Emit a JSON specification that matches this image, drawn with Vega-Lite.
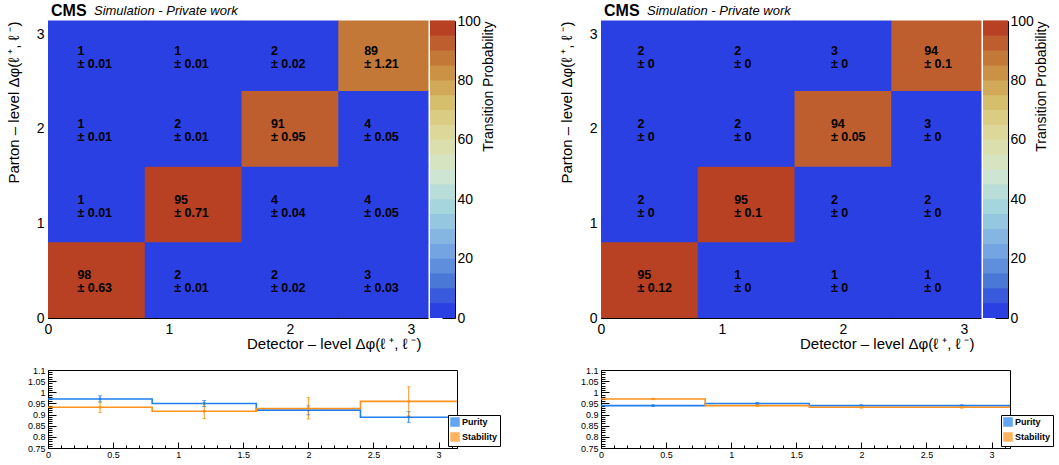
{
  "$schema": "https://vega.github.io/schema/vega-lite/v6.json",
  "padding": {"left": 6, "top": 2, "right": 0, "bottom": 0},
  "background": "white",
  "config": {
    "font": "Liberation Sans",
    "view": {"stroke": null},
    "axis": {"labelColor": "black", "titleColor": "black", "domainColor": "black", "tickColor": "black", "grid": false, "labelFont": "Liberation Sans", "titleFont": "Liberation Sans", "titleFontWeight": "normal", "labelOverlap": false, "labelFlush": false},
    "text": {"font": "Liberation Sans"}
  },
  "datasets": {
    "heatL": [
      {"x0": 0, "x1": 0.8, "y0": 0, "y1": 0.8, "xc": 0.4, "yc": 0.4, "p": 98, "e": "± 0.63"},
      {"x0": 0.8, "x1": 1.6, "y0": 0, "y1": 0.8, "xc": 1.2, "yc": 0.4, "p": 2, "e": "± 0.01"},
      {"x0": 1.6, "x1": 2.4, "y0": 0, "y1": 0.8, "xc": 2.0, "yc": 0.4, "p": 2, "e": "± 0.02"},
      {"x0": 2.4, "x1": 3.1416, "y0": 0, "y1": 0.8, "xc": 2.7708, "yc": 0.4, "p": 3, "e": "± 0.03"},
      {"x0": 0, "x1": 0.8, "y0": 0.8, "y1": 1.6, "xc": 0.4, "yc": 1.2, "p": 1, "e": "± 0.01"},
      {"x0": 0.8, "x1": 1.6, "y0": 0.8, "y1": 1.6, "xc": 1.2, "yc": 1.2, "p": 95, "e": "± 0.71"},
      {"x0": 1.6, "x1": 2.4, "y0": 0.8, "y1": 1.6, "xc": 2.0, "yc": 1.2, "p": 4, "e": "± 0.04"},
      {"x0": 2.4, "x1": 3.1416, "y0": 0.8, "y1": 1.6, "xc": 2.7708, "yc": 1.2, "p": 4, "e": "± 0.05"},
      {"x0": 0, "x1": 0.8, "y0": 1.6, "y1": 2.4, "xc": 0.4, "yc": 2.0, "p": 1, "e": "± 0.01"},
      {"x0": 0.8, "x1": 1.6, "y0": 1.6, "y1": 2.4, "xc": 1.2, "yc": 2.0, "p": 2, "e": "± 0.01"},
      {"x0": 1.6, "x1": 2.4, "y0": 1.6, "y1": 2.4, "xc": 2.0, "yc": 2.0, "p": 91, "e": "± 0.95"},
      {"x0": 2.4, "x1": 3.1416, "y0": 1.6, "y1": 2.4, "xc": 2.7708, "yc": 2.0, "p": 4, "e": "± 0.05"},
      {"x0": 0, "x1": 0.8, "y0": 2.4, "y1": 3.1416, "xc": 0.4, "yc": 2.7708, "p": 1, "e": "± 0.01"},
      {"x0": 0.8, "x1": 1.6, "y0": 2.4, "y1": 3.1416, "xc": 1.2, "yc": 2.7708, "p": 1, "e": "± 0.01"},
      {"x0": 1.6, "x1": 2.4, "y0": 2.4, "y1": 3.1416, "xc": 2.0, "yc": 2.7708, "p": 2, "e": "± 0.02"},
      {"x0": 2.4, "x1": 3.1416, "y0": 2.4, "y1": 3.1416, "xc": 2.7708, "yc": 2.7708, "p": 89, "e": "± 1.21"}
    ],
    "heatR": [
      {"x0": 0, "x1": 0.8, "y0": 0, "y1": 0.8, "xc": 0.4, "yc": 0.4, "p": 95, "e": "± 0.12"},
      {"x0": 0.8, "x1": 1.6, "y0": 0, "y1": 0.8, "xc": 1.2, "yc": 0.4, "p": 1, "e": "± 0"},
      {"x0": 1.6, "x1": 2.4, "y0": 0, "y1": 0.8, "xc": 2.0, "yc": 0.4, "p": 1, "e": "± 0"},
      {"x0": 2.4, "x1": 3.1416, "y0": 0, "y1": 0.8, "xc": 2.7708, "yc": 0.4, "p": 1, "e": "± 0"},
      {"x0": 0, "x1": 0.8, "y0": 0.8, "y1": 1.6, "xc": 0.4, "yc": 1.2, "p": 2, "e": "± 0"},
      {"x0": 0.8, "x1": 1.6, "y0": 0.8, "y1": 1.6, "xc": 1.2, "yc": 1.2, "p": 95, "e": "± 0.1"},
      {"x0": 1.6, "x1": 2.4, "y0": 0.8, "y1": 1.6, "xc": 2.0, "yc": 1.2, "p": 2, "e": "± 0"},
      {"x0": 2.4, "x1": 3.1416, "y0": 0.8, "y1": 1.6, "xc": 2.7708, "yc": 1.2, "p": 2, "e": "± 0"},
      {"x0": 0, "x1": 0.8, "y0": 1.6, "y1": 2.4, "xc": 0.4, "yc": 2.0, "p": 2, "e": "± 0"},
      {"x0": 0.8, "x1": 1.6, "y0": 1.6, "y1": 2.4, "xc": 1.2, "yc": 2.0, "p": 2, "e": "± 0"},
      {"x0": 1.6, "x1": 2.4, "y0": 1.6, "y1": 2.4, "xc": 2.0, "yc": 2.0, "p": 94, "e": "± 0.05"},
      {"x0": 2.4, "x1": 3.1416, "y0": 1.6, "y1": 2.4, "xc": 2.7708, "yc": 2.0, "p": 3, "e": "± 0"},
      {"x0": 0, "x1": 0.8, "y0": 2.4, "y1": 3.1416, "xc": 0.4, "yc": 2.7708, "p": 2, "e": "± 0"},
      {"x0": 0.8, "x1": 1.6, "y0": 2.4, "y1": 3.1416, "xc": 1.2, "yc": 2.7708, "p": 2, "e": "± 0"},
      {"x0": 1.6, "x1": 2.4, "y0": 2.4, "y1": 3.1416, "xc": 2.0, "yc": 2.7708, "p": 3, "e": "± 0"},
      {"x0": 2.4, "x1": 3.1416, "y0": 2.4, "y1": 3.1416, "xc": 2.7708, "yc": 2.7708, "p": 94, "e": "± 0.1"}
    ],
    "cbar": [
      {"lo": 0, "hi": 5, "mid": 2.5}, {"lo": 5, "hi": 10, "mid": 7.5}, {"lo": 10, "hi": 15, "mid": 12.5}, {"lo": 15, "hi": 20, "mid": 17.5},
      {"lo": 20, "hi": 25, "mid": 22.5}, {"lo": 25, "hi": 30, "mid": 27.5}, {"lo": 30, "hi": 35, "mid": 32.5}, {"lo": 35, "hi": 40, "mid": 37.5},
      {"lo": 40, "hi": 45, "mid": 42.5}, {"lo": 45, "hi": 50, "mid": 47.5}, {"lo": 50, "hi": 55, "mid": 52.5}, {"lo": 55, "hi": 60, "mid": 57.5},
      {"lo": 60, "hi": 65, "mid": 62.5}, {"lo": 65, "hi": 70, "mid": 67.5}, {"lo": 70, "hi": 75, "mid": 72.5}, {"lo": 75, "hi": 80, "mid": 77.5},
      {"lo": 80, "hi": 85, "mid": 82.5}, {"lo": 85, "hi": 90, "mid": 87.5}, {"lo": 90, "hi": 95, "mid": 92.5}, {"lo": 95, "hi": 100, "mid": 97.5}
    ],
    "stepL": [
      {"series": "Purity", "x": 0, "v": 0.97}, {"series": "Purity", "x": 0.8, "v": 0.95}, {"series": "Purity", "x": 1.6, "v": 0.92}, {"series": "Purity", "x": 2.4, "v": 0.888}, {"series": "Purity", "x": 3.1416, "v": 0.888},
      {"series": "Stability", "x": 0, "v": 0.933}, {"series": "Stability", "x": 0.8, "v": 0.915}, {"series": "Stability", "x": 1.6, "v": 0.927}, {"series": "Stability", "x": 2.4, "v": 0.959}, {"series": "Stability", "x": 3.1416, "v": 0.959}
    ],
    "errL": [
      {"series": "Purity", "xc": 0.4, "v": 0.97, "lo": 0.956, "hi": 0.984},
      {"series": "Purity", "xc": 1.2, "v": 0.95, "lo": 0.936, "hi": 0.963},
      {"series": "Purity", "xc": 2.0, "v": 0.92, "lo": 0.899, "hi": 0.939},
      {"series": "Purity", "xc": 2.7708, "v": 0.889, "lo": 0.865, "hi": 0.913},
      {"series": "Stability", "xc": 0.4, "v": 0.933, "lo": 0.909, "hi": 0.957},
      {"series": "Stability", "xc": 1.2, "v": 0.915, "lo": 0.882, "hi": 0.949},
      {"series": "Stability", "xc": 2.0, "v": 0.928, "lo": 0.88, "hi": 0.976},
      {"series": "Stability", "xc": 2.7708, "v": 0.959, "lo": 0.893, "hi": 1.025}
    ],
    "stepR": [
      {"series": "Purity", "x": 0, "v": 0.94}, {"series": "Purity", "x": 0.8, "v": 0.95}, {"series": "Purity", "x": 1.6, "v": 0.94}, {"series": "Purity", "x": 2.4, "v": 0.94}, {"series": "Purity", "x": 3.1416, "v": 0.94},
      {"series": "Stability", "x": 0, "v": 0.97}, {"series": "Stability", "x": 0.8, "v": 0.94}, {"series": "Stability", "x": 1.6, "v": 0.933}, {"series": "Stability", "x": 2.4, "v": 0.933}, {"series": "Stability", "x": 3.1416, "v": 0.933}
    ],
    "errR": [
      {"series": "Purity", "xc": 0.4, "v": 0.94, "lo": 0.938, "hi": 0.942},
      {"series": "Purity", "xc": 1.2, "v": 0.95, "lo": 0.947, "hi": 0.953},
      {"series": "Purity", "xc": 2.0, "v": 0.94, "lo": 0.938, "hi": 0.942},
      {"series": "Purity", "xc": 2.7708, "v": 0.94, "lo": 0.938, "hi": 0.942},
      {"series": "Stability", "xc": 0.4, "v": 0.97, "lo": 0.968, "hi": 0.972},
      {"series": "Stability", "xc": 1.2, "v": 0.94, "lo": 0.937, "hi": 0.943},
      {"series": "Stability", "xc": 2.0, "v": 0.933, "lo": 0.93, "hi": 0.936},
      {"series": "Stability", "xc": 2.7708, "v": 0.933, "lo": 0.93, "hi": 0.936}
    ]
  },
  "resolve": {"scale": {"fill": "independent", "stroke": "independent"}, "legend": {"fill": "independent", "stroke": "independent"}},
  "spacing": 58,
  "hconcat": [
    {
      "spacing": 14,
      "resolve": {"scale": {"fill": "independent", "stroke": "independent"}, "legend": {"fill": "independent", "stroke": "independent"}},
      "vconcat": [
        {
          "spacing": 1,
          "hconcat": [
            {
              "width": 380, "height": 297,
              "view": {"fill": "#2b40e2", "stroke": null},
              "data": {"name": "heatL"},
              "encoding": {
                "x": {"type": "quantitative", "scale": {"domain": [0, 3.1416], "nice": false, "zero": false},
                  "axis": {"title": "Detector – level Δφ(ℓ ⁺, ℓ ⁻)", "titleAnchor": "end", "titleAlign": "right", "titleX": 373, "titleFontSize": 15, "titlePadding": -5,
                    "values": [0, 0.2, 0.4, 0.6, 0.8, 1, 1.2, 1.4, 1.6, 1.8, 2, 2.2, 2.4, 2.6, 2.8, 3],
                    "labelExpr": "datum.value % 1 === 0 ? format(datum.value, 'd') : ''",
                    "labelFontSize": 14, "labelPadding": 14,
                    "tickSize": {"condition": {"test": "datum.value % 1 === 0", "value": -10}, "value": -5}}},
                "y": {"type": "quantitative", "scale": {"domain": [0, 3.1416], "nice": false, "zero": false},
                  "axis": {"title": "Parton – level Δφ(ℓ ⁺, ℓ ⁻)", "titleAnchor": "end", "titleFontSize": 15, "titlePadding": 15,
                    "values": [0, 0.2, 0.4, 0.6, 0.8, 1, 1.2, 1.4, 1.6, 1.8, 2, 2.2, 2.4, 2.6, 2.8, 3],
                    "labelExpr": "datum.value % 1 === 0 ? format(datum.value, 'd') : ''",
                    "labelFontSize": 14, "labelPadding": 14,
                    "tickSize": {"condition": {"test": "datum.value % 1 === 0", "value": -10}, "value": -5}}}
              },
              "layer": [
                {"mark": {"type": "rect", "x2Offset": 0.5, "y2Offset": -0.5},
                 "encoding": {"x": {"field": "x0"}, "x2": {"field": "x1"}, "y": {"field": "y0"}, "y2": {"field": "y1"},
                   "color": {"field": "p", "type": "quantitative", "legend": null,
                     "scale": {"type": "quantize", "domain": [0, 100], "nice": false, "range": ["#2b40e2", "#395add", "#4a78d7", "#5f8edd", "#74a4e2", "#85b6e2", "#95c7e0", "#a5d5dd", "#b9ddd8", "#cee5d3", "#d6e4c2", "#dbdfae", "#ddd899", "#dacc82", "#d6bf6c", "#d1a959", "#cb9246", "#c47837", "#be5d2d", "#b74122"]}}}},
                {"mark": {"type": "text", "align": "left", "baseline": "middle", "dx": -19, "dy": -5, "fontSize": 12.5, "fontWeight": "bold", "color": "black"},
                 "encoding": {"x": {"field": "xc"}, "y": {"field": "yc"}, "text": {"field": "p", "type": "quantitative"}}},
                {"mark": {"type": "text", "align": "left", "baseline": "middle", "dx": -19, "dy": 8, "fontSize": 12.5, "fontWeight": "bold", "color": "black"},
                 "encoding": {"x": {"field": "xc"}, "y": {"field": "yc"}, "text": {"field": "e", "type": "nominal"}}},
                {"data": {"values": [{"t": "CMS"}]},
                 "mark": {"type": "text", "align": "left", "baseline": "middle", "fontSize": 16, "fontWeight": "bold", "color": "black"},
                 "encoding": {"x": {"datum": 0.025}, "y": {"datum": 3.25}, "text": {"field": "t", "type": "nominal"}}},
                {"data": {"values": [{"t": "Simulation - Private work"}]},
                 "mark": {"type": "text", "align": "left", "baseline": "middle", "fontSize": 13, "fontStyle": "italic", "color": "black"},
                 "encoding": {"x": {"datum": 0.38}, "y": {"datum": 3.25}, "text": {"field": "t", "type": "nominal"}}}
              ]
            },
            {
              "width": 25, "height": 297,
              "data": {"name": "cbar"},
              "mark": {"type": "rect", "y2Offset": -0.6},
              "encoding": {
                "y": {"field": "lo", "type": "quantitative", "scale": {"domain": [0, 100], "nice": false, "zero": false},
                  "axis": {"orient": "right", "title": "Transition Probability", "titleAngle": -90, "titleAnchor": "end", "titleFontSize": 14, "titlePadding": 15,
                    "values": [0, 20, 40, 60, 80, 100], "labelFontSize": 14, "tickSize": -13, "labelPadding": 15, "labelBaseline": "middle"}},
                "y2": {"field": "hi"},
                "color": {"field": "mid", "type": "quantitative", "legend": null,
                  "scale": {"type": "quantize", "domain": [0, 100], "nice": false, "range": ["#2b40e2", "#395add", "#4a78d7", "#5f8edd", "#74a4e2", "#85b6e2", "#95c7e0", "#a5d5dd", "#b9ddd8", "#cee5d3", "#d6e4c2", "#dbdfae", "#ddd899", "#dacc82", "#d6bf6c", "#d1a959", "#cb9246", "#c47837", "#be5d2d", "#b74122"]}}
              }
            }
          ]
        },
        {
          "width": 409, "height": 78,
          "view": {"stroke": "black", "strokeWidth": 1},
          "encoding": {
            "x": {"type": "quantitative", "scale": {"domain": [0, 3.1416], "nice": false, "zero": false},
              "axis": {"title": null, "values": [0, 0.1, 0.2, 0.3, 0.4, 0.5, 0.6, 0.7, 0.8, 0.9, 1, 1.1, 1.2, 1.3, 1.4, 1.5, 1.6, 1.7, 1.8, 1.9, 2, 2.1, 2.2, 2.3, 2.4, 2.5, 2.6, 2.7, 2.8, 2.9, 3, 3.1],
                "labelExpr": "abs(datum.value*2 - round(datum.value*2)) < 0.001 ? format(datum.value, '~g') : ''",
                "labelFontSize": 9, "labelPadding": 8,
                "tickSize": {"condition": {"test": "abs(datum.value*2 - round(datum.value*2)) < 0.001", "value": -6}, "value": -3}}},
            "y": {"type": "quantitative", "scale": {"domain": [0.75, 1.1], "nice": false, "zero": false},
              "axis": {"title": null, "values": [0.75, 0.76, 0.77, 0.78, 0.79, 0.8, 0.81, 0.82, 0.83, 0.84, 0.85, 0.86, 0.87, 0.88, 0.89, 0.9, 0.91, 0.92, 0.93, 0.94, 0.95, 0.96, 0.97, 0.98, 0.99, 1, 1.01, 1.02, 1.03, 1.04, 1.05, 1.06, 1.07, 1.08, 1.09, 1.1],
                "labelExpr": "abs(datum.value*20 - round(datum.value*20)) < 0.001 ? format(datum.value, '~g') : ''",
                "labelFontSize": 9, "labelPadding": 11,
                "tickSize": {"condition": {"test": "abs(datum.value*20 - round(datum.value*20)) < 0.001", "value": -8}, "value": -4}}}
          },
          "layer": [
            {"data": {"name": "stepL"}, "mark": {"type": "line", "interpolate": "step-after", "strokeWidth": 1.6},
             "encoding": {"x": {"field": "x"}, "y": {"field": "v"},
               "stroke": {"field": "series", "type": "nominal", "scale": {"domain": ["Purity", "Stability"], "range": ["#1f7fee", "#ff931e"]},
                 "legend": {"orient": "none", "legendX": 400, "legendY": 45, "title": null, "fillColor": "white", "strokeColor": "black", "padding": 2, "labelFontSize": 9, "labelFontWeight": "bold", "labelColor": "black", "symbolType": "square", "symbolSize": 64, "rowPadding": 1, "labelOffset": 2}}}},
            {"data": {"name": "errL"}, "mark": {"type": "rule", "strokeWidth": 1},
             "encoding": {"x": {"field": "xc"}, "y": {"field": "lo"}, "y2": {"field": "hi"},
               "stroke": {"field": "series", "type": "nominal"}}},
            {"data": {"name": "errL"}, "mark": {"type": "tick", "orient": "horizontal", "size": 4, "thickness": 1},
             "encoding": {"x": {"field": "xc"}, "y": {"field": "lo"},
               "fill": {"field": "series", "type": "nominal", "scale": {"domain": ["Purity", "Stability"], "range": ["#1f7fee", "#ff931e"]},
                 "legend": {"orient": "none", "legendX": 400, "legendY": 45, "title": null, "fillColor": "white", "strokeColor": "black", "padding": 2, "labelFontSize": 9, "labelFontWeight": "bold", "labelColor": "black", "symbolType": "square", "symbolSize": 64, "rowPadding": 1, "labelOffset": 2}}}},
            {"data": {"name": "errL"}, "mark": {"type": "tick", "orient": "horizontal", "size": 4, "thickness": 1},
             "encoding": {"x": {"field": "xc"}, "y": {"field": "hi"},
               "fill": {"field": "series", "type": "nominal"}}},
            {"data": {"name": "errL"}, "mark": {"type": "point", "shape": "square", "filled": true, "size": 6, "opacity": 1},
             "encoding": {"x": {"field": "xc"}, "y": {"field": "v"},
               "fill": {"field": "series", "type": "nominal"}}}
          ]
        }
      ]
    },
    {
      "spacing": 14,
      "resolve": {"scale": {"fill": "independent", "stroke": "independent"}, "legend": {"fill": "independent", "stroke": "independent"}},
      "vconcat": [
        {
          "spacing": 1,
          "hconcat": [
            {
              "width": 380, "height": 297,
              "view": {"fill": "#2b40e2", "stroke": null},
              "data": {"name": "heatR"},
              "encoding": {
                "x": {"type": "quantitative", "scale": {"domain": [0, 3.1416], "nice": false, "zero": false},
                  "axis": {"title": "Detector – level Δφ(ℓ ⁺, ℓ ⁻)", "titleAnchor": "end", "titleAlign": "right", "titleX": 373, "titleFontSize": 15, "titlePadding": -5,
                    "values": [0, 0.2, 0.4, 0.6, 0.8, 1, 1.2, 1.4, 1.6, 1.8, 2, 2.2, 2.4, 2.6, 2.8, 3],
                    "labelExpr": "datum.value % 1 === 0 ? format(datum.value, 'd') : ''",
                    "labelFontSize": 14, "labelPadding": 14,
                    "tickSize": {"condition": {"test": "datum.value % 1 === 0", "value": -10}, "value": -5}}},
                "y": {"type": "quantitative", "scale": {"domain": [0, 3.1416], "nice": false, "zero": false},
                  "axis": {"title": "Parton – level Δφ(ℓ ⁺, ℓ ⁻)", "titleAnchor": "end", "titleFontSize": 15, "titlePadding": 15,
                    "values": [0, 0.2, 0.4, 0.6, 0.8, 1, 1.2, 1.4, 1.6, 1.8, 2, 2.2, 2.4, 2.6, 2.8, 3],
                    "labelExpr": "datum.value % 1 === 0 ? format(datum.value, 'd') : ''",
                    "labelFontSize": 14, "labelPadding": 14,
                    "tickSize": {"condition": {"test": "datum.value % 1 === 0", "value": -10}, "value": -5}}}
              },
              "layer": [
                {"mark": {"type": "rect", "x2Offset": 0.5, "y2Offset": -0.5},
                 "encoding": {"x": {"field": "x0"}, "x2": {"field": "x1"}, "y": {"field": "y0"}, "y2": {"field": "y1"},
                   "color": {"field": "p", "type": "quantitative", "legend": null,
                     "scale": {"type": "quantize", "domain": [0, 100], "nice": false, "range": ["#2b40e2", "#395add", "#4a78d7", "#5f8edd", "#74a4e2", "#85b6e2", "#95c7e0", "#a5d5dd", "#b9ddd8", "#cee5d3", "#d6e4c2", "#dbdfae", "#ddd899", "#dacc82", "#d6bf6c", "#d1a959", "#cb9246", "#c47837", "#be5d2d", "#b74122"]}}}},
                {"mark": {"type": "text", "align": "left", "baseline": "middle", "dx": -12, "dy": -5, "fontSize": 12.5, "fontWeight": "bold", "color": "black"},
                 "encoding": {"x": {"field": "xc"}, "y": {"field": "yc"}, "text": {"field": "p", "type": "quantitative"}}},
                {"mark": {"type": "text", "align": "left", "baseline": "middle", "dx": -12, "dy": 8, "fontSize": 12.5, "fontWeight": "bold", "color": "black"},
                 "encoding": {"x": {"field": "xc"}, "y": {"field": "yc"}, "text": {"field": "e", "type": "nominal"}}},
                {"data": {"values": [{"t": "CMS"}]},
                 "mark": {"type": "text", "align": "left", "baseline": "middle", "fontSize": 16, "fontWeight": "bold", "color": "black"},
                 "encoding": {"x": {"datum": 0.025}, "y": {"datum": 3.25}, "text": {"field": "t", "type": "nominal"}}},
                {"data": {"values": [{"t": "Simulation - Private work"}]},
                 "mark": {"type": "text", "align": "left", "baseline": "middle", "fontSize": 13, "fontStyle": "italic", "color": "black"},
                 "encoding": {"x": {"datum": 0.38}, "y": {"datum": 3.25}, "text": {"field": "t", "type": "nominal"}}}
              ]
            },
            {
              "width": 25, "height": 297,
              "data": {"name": "cbar"},
              "mark": {"type": "rect", "y2Offset": -0.6},
              "encoding": {
                "y": {"field": "lo", "type": "quantitative", "scale": {"domain": [0, 100], "nice": false, "zero": false},
                  "axis": {"orient": "right", "title": "Transition Probability", "titleAngle": -90, "titleAnchor": "end", "titleFontSize": 14, "titlePadding": 15,
                    "values": [0, 20, 40, 60, 80, 100], "labelFontSize": 14, "tickSize": -13, "labelPadding": 15, "labelBaseline": "middle"}},
                "y2": {"field": "hi"},
                "color": {"field": "mid", "type": "quantitative", "legend": null,
                  "scale": {"type": "quantize", "domain": [0, 100], "nice": false, "range": ["#2b40e2", "#395add", "#4a78d7", "#5f8edd", "#74a4e2", "#85b6e2", "#95c7e0", "#a5d5dd", "#b9ddd8", "#cee5d3", "#d6e4c2", "#dbdfae", "#ddd899", "#dacc82", "#d6bf6c", "#d1a959", "#cb9246", "#c47837", "#be5d2d", "#b74122"]}}
              }
            }
          ]
        },
        {
          "width": 409, "height": 78,
          "view": {"stroke": "black", "strokeWidth": 1},
          "encoding": {
            "x": {"type": "quantitative", "scale": {"domain": [0, 3.1416], "nice": false, "zero": false},
              "axis": {"title": null, "values": [0, 0.1, 0.2, 0.3, 0.4, 0.5, 0.6, 0.7, 0.8, 0.9, 1, 1.1, 1.2, 1.3, 1.4, 1.5, 1.6, 1.7, 1.8, 1.9, 2, 2.1, 2.2, 2.3, 2.4, 2.5, 2.6, 2.7, 2.8, 2.9, 3, 3.1],
                "labelExpr": "abs(datum.value*2 - round(datum.value*2)) < 0.001 ? format(datum.value, '~g') : ''",
                "labelFontSize": 9, "labelPadding": 8,
                "tickSize": {"condition": {"test": "abs(datum.value*2 - round(datum.value*2)) < 0.001", "value": -6}, "value": -3}}},
            "y": {"type": "quantitative", "scale": {"domain": [0.75, 1.1], "nice": false, "zero": false},
              "axis": {"title": null, "values": [0.75, 0.76, 0.77, 0.78, 0.79, 0.8, 0.81, 0.82, 0.83, 0.84, 0.85, 0.86, 0.87, 0.88, 0.89, 0.9, 0.91, 0.92, 0.93, 0.94, 0.95, 0.96, 0.97, 0.98, 0.99, 1, 1.01, 1.02, 1.03, 1.04, 1.05, 1.06, 1.07, 1.08, 1.09, 1.1],
                "labelExpr": "abs(datum.value*20 - round(datum.value*20)) < 0.001 ? format(datum.value, '~g') : ''",
                "labelFontSize": 9, "labelPadding": 11,
                "tickSize": {"condition": {"test": "abs(datum.value*20 - round(datum.value*20)) < 0.001", "value": -8}, "value": -4}}}
          },
          "layer": [
            {"data": {"name": "stepR"}, "mark": {"type": "line", "interpolate": "step-after", "strokeWidth": 1.6},
             "encoding": {"x": {"field": "x"}, "y": {"field": "v"},
               "stroke": {"field": "series", "type": "nominal", "scale": {"domain": ["Purity", "Stability"], "range": ["#1f7fee", "#ff931e"]},
                 "legend": {"orient": "none", "legendX": 400, "legendY": 45, "title": null, "fillColor": "white", "strokeColor": "black", "padding": 2, "labelFontSize": 9, "labelFontWeight": "bold", "labelColor": "black", "symbolType": "square", "symbolSize": 64, "rowPadding": 1, "labelOffset": 2}}}},
            {"data": {"name": "errR"}, "mark": {"type": "rule", "strokeWidth": 1},
             "encoding": {"x": {"field": "xc"}, "y": {"field": "lo"}, "y2": {"field": "hi"},
               "stroke": {"field": "series", "type": "nominal"}}},
            {"data": {"name": "errR"}, "mark": {"type": "tick", "orient": "horizontal", "size": 4, "thickness": 1},
             "encoding": {"x": {"field": "xc"}, "y": {"field": "lo"},
               "fill": {"field": "series", "type": "nominal", "scale": {"domain": ["Purity", "Stability"], "range": ["#1f7fee", "#ff931e"]},
                 "legend": {"orient": "none", "legendX": 400, "legendY": 45, "title": null, "fillColor": "white", "strokeColor": "black", "padding": 2, "labelFontSize": 9, "labelFontWeight": "bold", "labelColor": "black", "symbolType": "square", "symbolSize": 64, "rowPadding": 1, "labelOffset": 2}}}},
            {"data": {"name": "errR"}, "mark": {"type": "tick", "orient": "horizontal", "size": 4, "thickness": 1},
             "encoding": {"x": {"field": "xc"}, "y": {"field": "hi"},
               "fill": {"field": "series", "type": "nominal"}}},
            {"data": {"name": "errR"}, "mark": {"type": "point", "shape": "square", "filled": true, "size": 6, "opacity": 1},
             "encoding": {"x": {"field": "xc"}, "y": {"field": "v"},
               "fill": {"field": "series", "type": "nominal"}}}
          ]
        }
      ]
    }
  ]
}
